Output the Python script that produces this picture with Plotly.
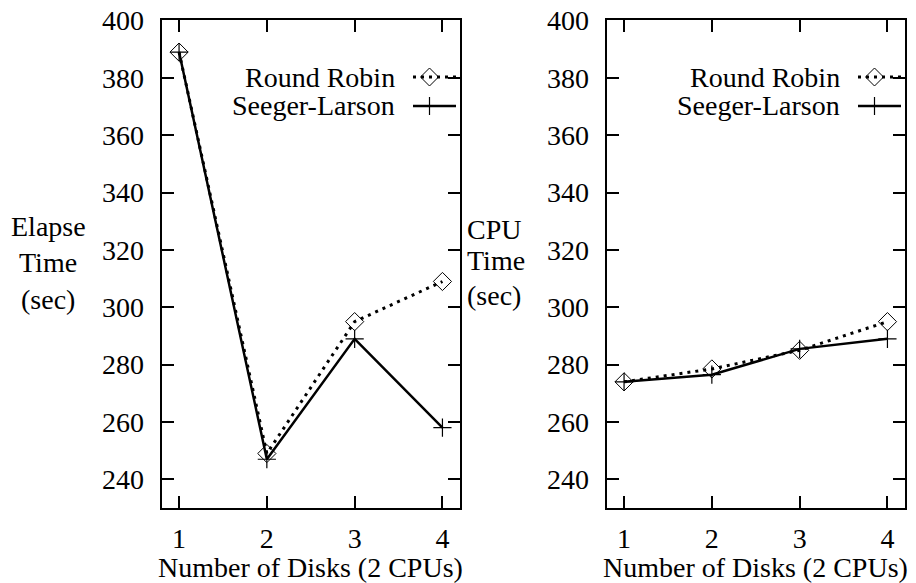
import plotly.graph_objects as go

disks = [1, 2, 3, 4]
elapse_rr = [389, 249, 295, 309]
elapse_sl = [389, 247, 289, 258]
cpu_rr = [274, 278.5, 285, 295]
cpu_sl = [274, 276.5, 285.5, 289]
series_names = ["Round Robin", "Seeger-Larson"]
y_ticks = [240, 260, 280, 300, 320, 340, 360, 380, 400]
x_title = "Number of Disks (2 CPUs)"

# page has an 8px body margin; lay the figure out in viewport pixels
OFF = 8
W, H = 916 - OFF, 583 - OFF
FONT = "Liberation Serif"
FS = 28

def px(x):
    return (x - OFF) / W

def py(y):
    return 1 - (y - OFF) / H

fig = go.Figure()

dot_line = dict(color="black", width=3, dash="3px,5px")
solid_line = dict(color="black", width=2.5)
rr_marker = dict(symbol="diamond-open", size=14, color="black", line=dict(width=1, color="black"))
sl_marker = dict(symbol="cross-thin-open", size=13, color="black", line=dict(width=1.2, color="black"))

for xa, ya, rr, sl in [("x", "y", elapse_rr, elapse_sl), ("x2", "y2", cpu_rr, cpu_sl)]:
    fig.add_trace(go.Scatter(x=disks, y=rr, mode="lines", line=dot_line, xaxis=xa, yaxis=ya,
                             name=series_names[0], showlegend=False))
    fig.add_trace(go.Scatter(x=disks, y=sl, mode="lines+markers", line=solid_line, marker=sl_marker,
                             xaxis=xa, yaxis=ya, name=series_names[1], showlegend=False))
    fig.add_trace(go.Scatter(x=disks, y=rr, mode="markers", marker=rr_marker, xaxis=xa, yaxis=ya,
                             name=series_names[0], showlegend=False))

axis_common = dict(
    showline=True, linecolor="black", linewidth=2, mirror="ticks",
    ticks="inside", ticklen=12, tickwidth=2, tickcolor="black",
    showgrid=False, zeroline=False, automargin=False, ticklabeloverflow="allow",
    tickfont=dict(family=FONT, size=FS, color="black"),
)

left_dom = [px(161.5), px(460)]
right_dom = [px(606.5), px(905)]
y_dom = [py(508), py(20)]

fig.update_layout(
    width=W, height=H,
    margin=dict(l=0, r=0, t=0, b=0, pad=0),
    paper_bgcolor="white", plot_bgcolor="white",
    font=dict(family=FONT, size=FS, color="black"),
    showlegend=False,
    xaxis=dict(domain=left_dom, range=[0.8, 4.2], tickvals=disks, ticklabelstandoff=4, anchor="y", **axis_common),
    yaxis=dict(domain=y_dom, range=[230, 400.2], tickvals=y_ticks, ticklabelstandoff=10, anchor="x", **axis_common),
    xaxis2=dict(domain=right_dom, range=[0.8, 4.2], tickvals=disks, ticklabelstandoff=4, anchor="y2", **axis_common),
    yaxis2=dict(domain=y_dom, range=[230, 400.2], tickvals=y_ticks, ticklabelstandoff=10, anchor="x2", **axis_common),
)

annotations = []
for cx in [(161.5 + 460) / 2, (606.5 + 905) / 2]:
    annotations.append(dict(x=px(cx), y=py(567), xref="paper", yref="paper", text=x_title,
                            showarrow=False, xanchor="center", yanchor="middle",
                            font=dict(family=FONT, size=FS, color="black")))
for txt, yy in [("Elapse", 227), ("Time", 262), ("(sec)", 299)]:
    annotations.append(dict(x=px(48), y=py(yy), xref="paper", yref="paper", text=txt,
                            showarrow=False, xanchor="center", yanchor="middle",
                            font=dict(family=FONT, size=FS, color="black")))
for txt, yy in [("CPU", 229), ("Time", 261), ("(sec)", 295)]:
    annotations.append(dict(x=px(465), y=py(yy), xref="paper", yref="paper", text=txt,
                            showarrow=False, xanchor="left", yanchor="middle",
                            font=dict(family=FONT, size=FS, color="black")))

shapes = []
for right_edge in [460, 905]:
    text_r = right_edge - 63
    s0, s1 = right_edge - 47, right_edge - 4
    cxm = (s0 + s1) / 2 - 5
    for i, (name, yy) in enumerate([(series_names[0], 77), (series_names[1], 106)]):
        annotations.append(dict(x=px(text_r), y=py(yy), xref="paper", yref="paper", text=name,
                                showarrow=False, xanchor="right", yanchor="middle",
                                font=dict(family=FONT, size=FS, color="black")))
        d = 9
        if i == 0:
            shapes.append(dict(type="line", xref="paper", yref="paper", x0=px(s0), x1=px(s1),
                               y0=py(yy), y1=py(yy), line=dot_line))
            path = "M {} {} L {} {} L {} {} L {} {} Z".format(
                px(cxm - d), py(yy), px(cxm), py(yy - d), px(cxm + d), py(yy), px(cxm), py(yy + d))
            shapes.append(dict(type="path", xref="paper", yref="paper", path=path,
                               line=dict(color="black", width=1), fillcolor="rgba(0,0,0,0)"))
        else:
            shapes.append(dict(type="line", xref="paper", yref="paper", x0=px(s0), x1=px(s1),
                               y0=py(yy), y1=py(yy), line=solid_line))
            shapes.append(dict(type="line", xref="paper", yref="paper", x0=px(cxm), x1=px(cxm),
                               y0=py(yy - d), y1=py(yy + d), line=dict(color="black", width=1.2)))

fig.update_layout(annotations=annotations, shapes=shapes)

fig.write_html("out.html")
